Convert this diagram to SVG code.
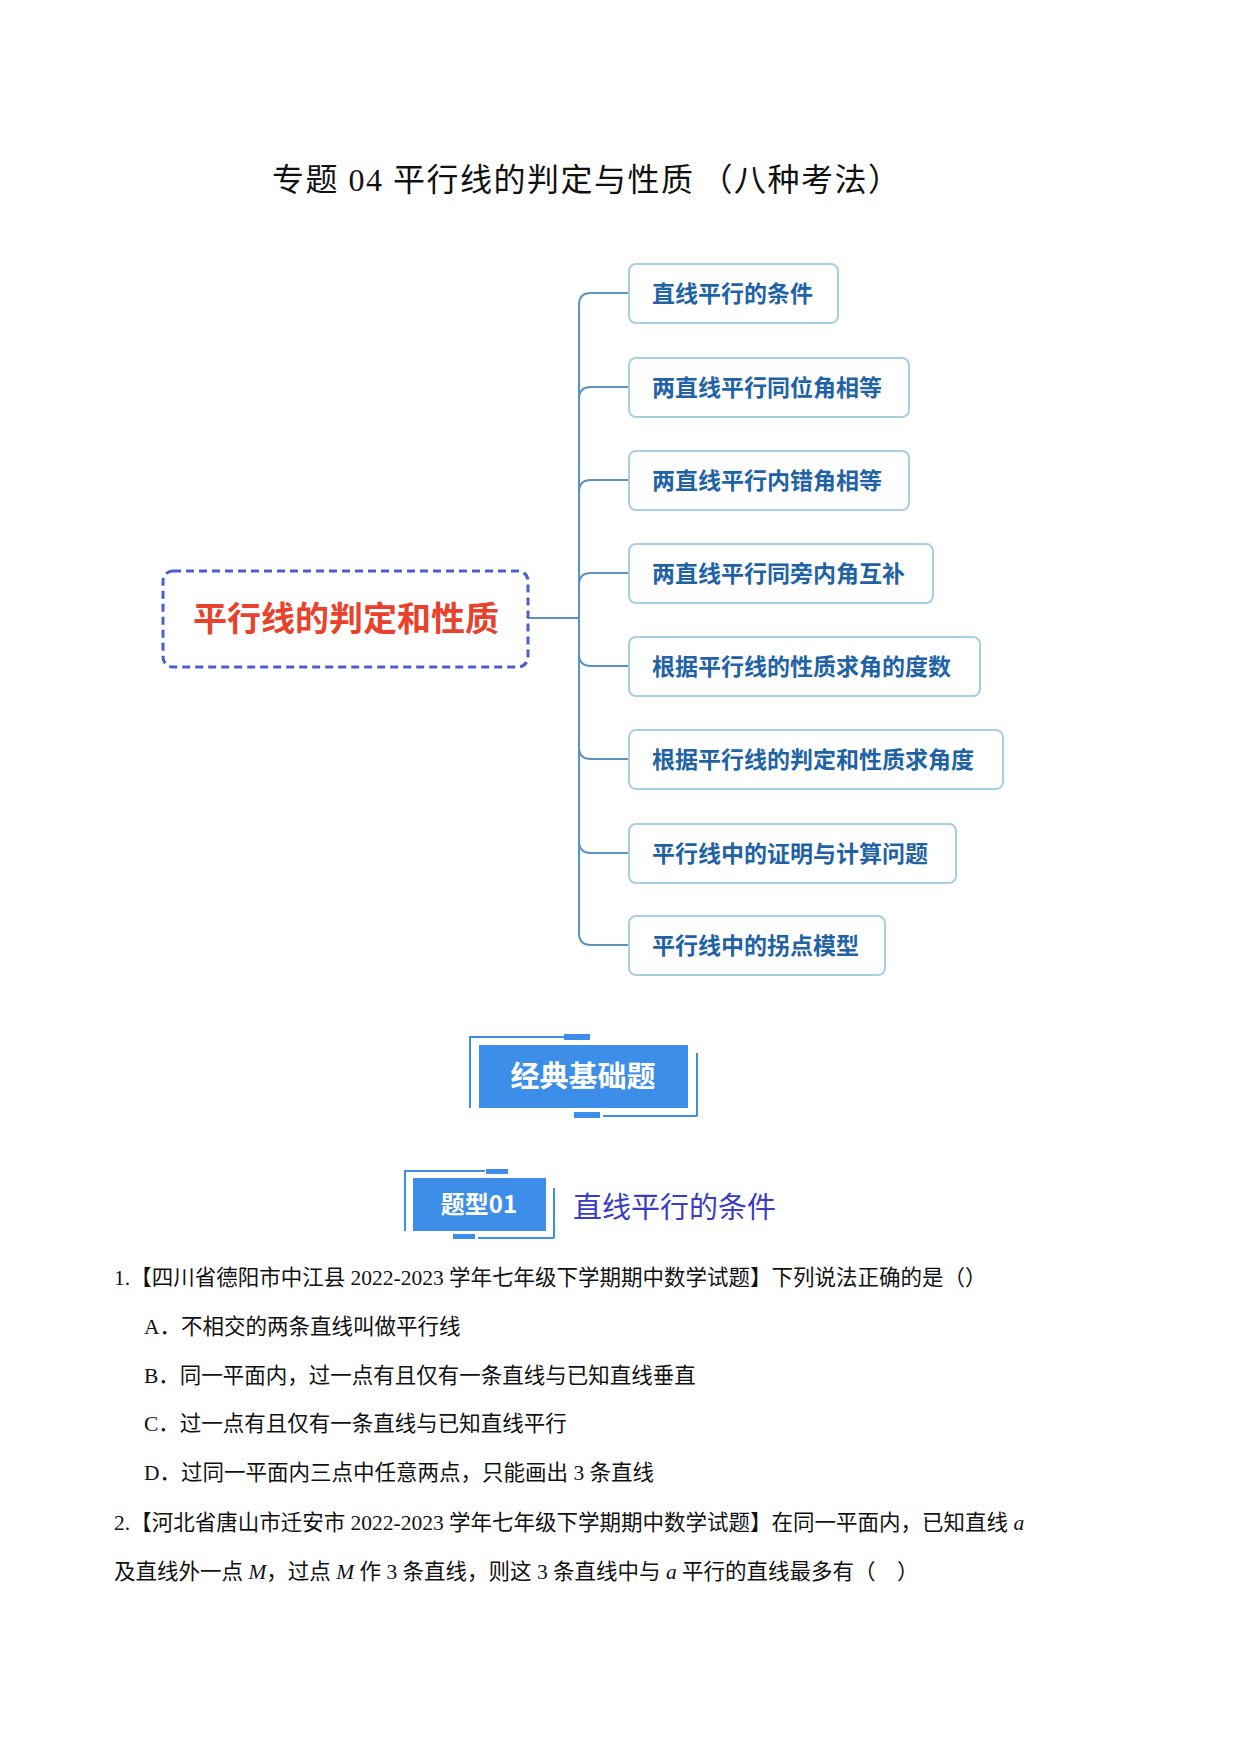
<svg xmlns="http://www.w3.org/2000/svg" width="1240" height="1753" viewBox="0 0 1240 1753">
<style>
.t{font-family:"Liberation Serif","Noto Sans CJK SC",serif;fill:#111}
.q{font-size:21.5px}
.b{fill:#fff;stroke:#a9cfe2;stroke-width:2}
.bt{font-family:"Noto Sans CJK SC",sans-serif;font-weight:bold;font-size:23px;fill:#1f63a6}
.c{fill:none;stroke:#5b93c0;stroke-width:2}
</style>
<rect width="1240" height="1753" fill="#fff"/>
<text class="t" x="272" y="191" font-size="32" letter-spacing="1.5">专题 04  平行线的判定与性质<tspan dx="6">（八种考法）</tspan></text>
<g id="connectors">
<path class="c" d="M527,618 H579"/>
<path class="c" d="M629,293 H591 Q579,293 579,305 V933 Q579,945 591,945 H629"/>
<path class="c" d="M579,399 Q579,387 591,387 H629 M579,492 Q579,480 591,480 H629 M579,585 Q579,573 591,573 H629 M579,654 Q579,666 591,666 H629 M579,747 Q579,759 591,759 H629 M579,841 Q579,853 591,853 H629"/>
</g>
<g id="center">
<rect x="163" y="571" width="365" height="96" rx="10" fill="#fff" stroke="#4a5fcf" stroke-width="3" stroke-dasharray="8,5"/>
<text x="346" y="631" text-anchor="middle" font-family="Noto Sans CJK SC,sans-serif" font-weight="bold" font-size="34" fill="#e8412c">平行线的判定和性质</text>
</g>
<g id="n1"><rect class="b" x="629" y="264" width="209" height="59" rx="7"/><text class="bt" x="652" y="302">直线平行的条件</text></g>
<g id="n2"><rect class="b" x="629" y="358" width="280" height="59" rx="7"/><text class="bt" x="652" y="396">两直线平行同位角相等</text></g>
<g id="n3"><rect class="b" x="629" y="451" width="280" height="59" rx="7"/><text class="bt" x="652" y="489">两直线平行内错角相等</text></g>
<g id="n4"><rect class="b" x="629" y="544" width="304" height="59" rx="7"/><text class="bt" x="652" y="582">两直线平行同旁内角互补</text></g>
<g id="n5"><rect class="b" x="629" y="637" width="351" height="59" rx="7"/><text class="bt" x="652" y="675">根据平行线的性质求角的度数</text></g>
<g id="n6"><rect class="b" x="629" y="730" width="374" height="59" rx="7"/><text class="bt" x="652" y="768">根据平行线的判定和性质求角度</text></g>
<g id="n7"><rect class="b" x="629" y="824" width="327" height="59" rx="7"/><text class="bt" x="652" y="862">平行线中的证明与计算问题</text></g>
<g id="n8"><rect class="b" x="629" y="916" width="256" height="59" rx="7"/><text class="bt" x="652" y="954">平行线中的拐点模型</text></g>
<g id="banner">
<path d="M564,1037 H470 V1108 M697,1116 H603 M697,1116 V1053" fill="none" stroke="#3d8ee8" stroke-width="2"/>
<rect x="564" y="1034" width="26" height="6" fill="#3d8ee8"/>
<rect x="574" y="1112" width="26" height="6" fill="#3d8ee8"/>
<rect x="479" y="1045" width="209" height="63" fill="#3d8ee8"/>
<text x="583" y="1087" text-anchor="middle" font-family="Noto Sans CJK SC,sans-serif" font-weight="bold" font-size="29" fill="#fff">经典基础题</text>
</g>
<g id="type01">
<path d="M485,1171 H405 V1231 M554,1238 H478 M554,1238 V1188" fill="none" stroke="#3d8ee8" stroke-width="2"/>
<rect x="486" y="1169" width="22" height="5" fill="#3d8ee8"/>
<rect x="453" y="1234" width="22" height="5" fill="#3d8ee8"/>
<rect x="413" y="1178" width="133" height="53" fill="#3d8ee8"/>
<text x="479" y="1213" text-anchor="middle" font-family="Noto Sans CJK SC,sans-serif" font-weight="bold" font-size="24" fill="#fff">题型01</text>
<text x="573" y="1218" font-family="Noto Sans CJK SC,sans-serif" font-size="29" fill="#3b3bc4">直线平行的条件</text>
</g>
<text class="t q" x="114" y="1285">1.【四川省德阳市中江县 2022-2023 学年七年级下学期期中数学试题】下列说法正确的是（）</text>
<text class="t q" x="144" y="1334">A．不相交的两条直线叫做平行线</text>
<text class="t q" x="144" y="1383">B．同一平面内，过一点有且仅有一条直线与已知直线垂直</text>
<text class="t q" x="144" y="1431">C．过一点有且仅有一条直线与已知直线平行</text>
<text class="t q" x="144" y="1480">D．过同一平面内三点中任意两点，只能画出 3 条直线</text>
<text class="t q" x="114" y="1530">2.【河北省唐山市迁安市 2022-2023 学年七年级下学期期中数学试题】在同一平面内，已知直线 <tspan font-style="italic">a</tspan></text>
<text class="t q" x="114" y="1579">及直线外一点 <tspan font-style="italic">M</tspan>，过点 <tspan font-style="italic">M</tspan> 作 3 条直线，则这 3 条直线中与 <tspan font-style="italic">a</tspan> 平行的直线最多有（　）</text>
</svg>
